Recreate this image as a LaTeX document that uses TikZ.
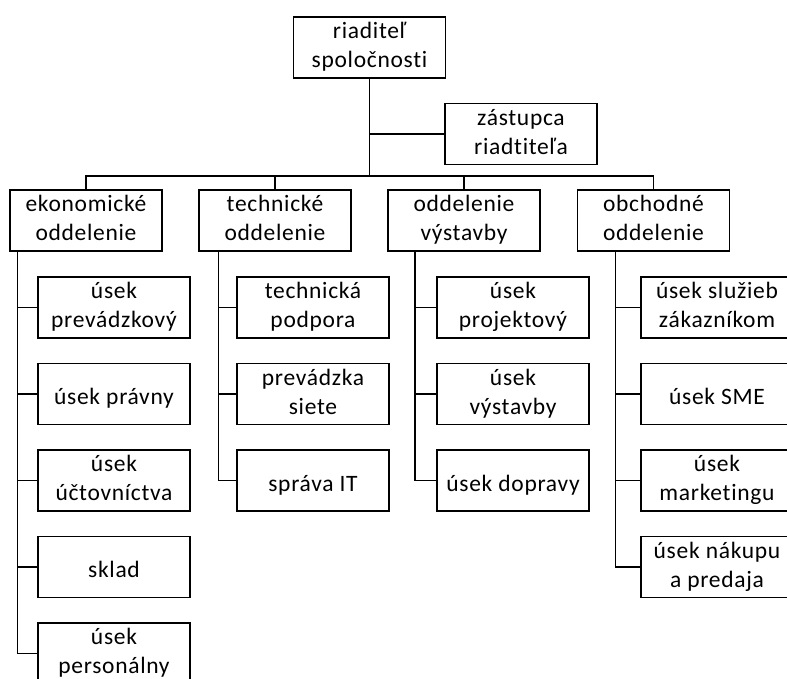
\documentclass[tikz,border=0pt]{standalone}
\usepackage{fontspec}
\setmainfont{Carlito}[Ligatures=NoCommon, LetterSpace=3]
\usepackage{tikz}

\newcommand{\boxtop}{\rule{0pt}{26pt}}
\newcommand{\boxbot}{\rule[-5pt]{0pt}{5pt}}

\tikzset{
  box/.style={draw, line width=1.5pt, minimum width=152pt, minimum height=61pt,
    align=center, inner sep=0pt, font=\fontsize{23.5}{29}\selectfont,
    execute at begin node=\boxtop, execute at end node=\boxbot},
  link/.style={line width=1.5pt}
}

\begin{document}
\begin{tikzpicture}[x=1pt, y=-1pt]
\useasboundingbox (0,0) rectangle (787,679);
\clip (0,0) rectangle (787,679);

\node[box] (dir)  at (369.5,47.5) {riaditeľ\\spoločnosti};
\node[box] (zast) at (521,134)    {zástupca\\riadtiteľa};

\node[box] (ekon) at (86,220.3)    {ekonomické\\oddelenie};
\node[box] (tech) at (275,220.3)   {technické\\oddelenie};
\node[box] (vyst) at (464,220.3)   {oddelenie\\výstavby};
\node[box] (obch) at (653.5,220.3) {obchodné\\oddelenie};

\node[box] (e1) at (114,307.3) {úsek\\prevádzkový};
\node[box] (e2) at (114,394)   {úsek právny};
\node[box] (e3) at (114,480.5) {úsek\\účtovníctva};
\node[box] (e4) at (114,567)   {sklad};
\node[box] (e5) at (114,653.7) {úsek\\personálny};

\node[box] (t1) at (313,307.3) {technická\\podpora};
\node[box] (t2) at (313,394)   {prevádzka\\siete};
\node[box] (t3) at (313,480.5) {správa IT};

\node[box] (v1) at (513,307.3) {úsek\\projektový};
\node[box] (v2) at (513,394)   {úsek\\výstavby};
\node[box] (v3) at (513,480.5) {úsek dopravy};

\node[box] (o1) at (717,307.3) {úsek služieb\\zákazníkom};
\node[box] (o2) at (717,394)   {úsek SME};
\node[box] (o3) at (717,480.5) {úsek\\marketingu};
\node[box] (o4) at (717,567)   {úsek nákupu\\a predaja};

% top of the tree
\coordinate (bus) at (370,176);
\draw[link] (dir.south) -- (dir.south |- bus);
\draw[link] (dir.south |- zast.west) -- (zast.west);
\draw[link] (ekon.north) |- (bus);
\draw[link] (obch.north) |- (bus);
\draw[link] (tech.north) -- (tech.north |- bus);
\draw[link] (vyst.north) -- (vyst.north |- bus);

% columns
\coordinate (ebar) at (17.3,250.7);
\coordinate (tbar) at (218.3,250.7);
\coordinate (vbar) at (415,250.7);
\coordinate (obar) at (615.7,250.7);
\draw[link] (ebar) |- (e5.west);
\draw[link] (tbar) |- (t3.west);
\draw[link] (vbar) |- (v3.west);
\draw[link] (obar) |- (o4.west);
\foreach \n in {e1,e2,e3,e4}
  \draw[link] (ebar |- \n.west) -- (\n.west);
\foreach \n in {t1,t2}
  \draw[link] (tbar |- \n.west) -- (\n.west);
\foreach \n in {v1,v2}
  \draw[link] (vbar |- \n.west) -- (\n.west);
\foreach \n in {o1,o2,o3}
  \draw[link] (obar |- \n.west) -- (\n.west);
\end{tikzpicture}
\end{document}
